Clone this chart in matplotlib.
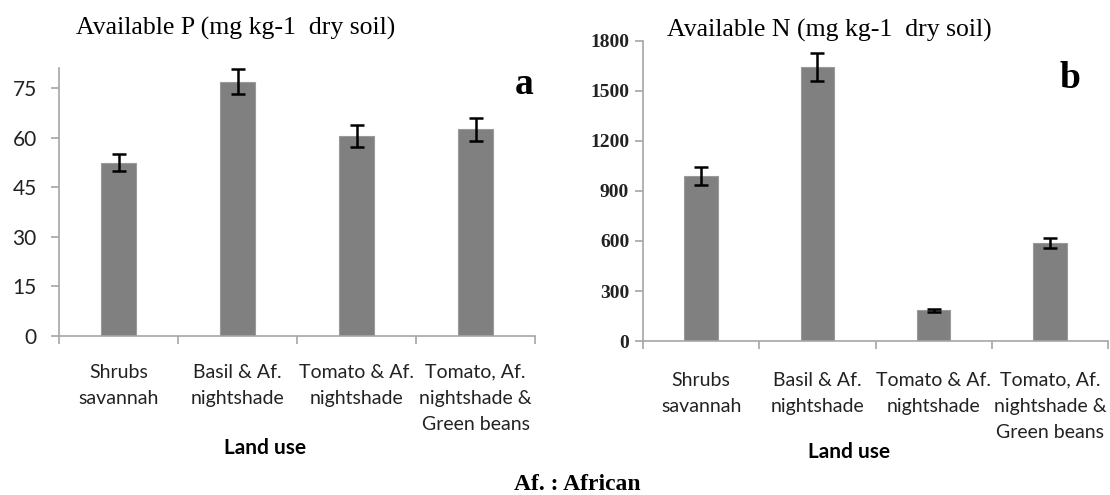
import matplotlib
matplotlib.use("Agg")
import matplotlib.pyplot as plt
import numpy as np

# data
land_use = ["Shrubs\nsavannah", "Basil & Af.\nnightshade", "Tomato & Af.\nnightshade",
            "Tomato, Af.\nnightshade &\nGreen beans"]
avail_p = [52.5, 77.0, 60.6, 62.6]
avail_p_err = [2.6, 3.8, 3.4, 3.4]
avail_n = [988, 1645, 184, 590]
avail_n_err = [53, 84, 10, 30]
p_ticks = [0, 15, 30, 45, 60, 75]
n_ticks = [0, 300, 600, 900, 1200, 1500, 1800]

bar_col = "#808080"
axis_col = "#a6a6a6"
sans = "Lato"
serif = "Liberation Serif"

fig = plt.figure(figsize=(11.1, 4.95), dpi=100)
ax1 = fig.add_axes([0.0532, 0.3212, 0.4288, 0.5414])
ax2 = fig.add_axes([0.5793, 0.3111, 0.4189, 0.6061])

x = np.arange(len(land_use))


def style(ax, vals, errs, ylim, yticks, ytick_font, ytick_weight, ytick_size, pad, ypad):
    ax.bar(x, vals, width=0.29, color=bar_col, edgecolor="#9a9a9a", linewidth=0.8, zorder=2)
    ax.errorbar(x, vals, yerr=errs, fmt="none", ecolor="black", elinewidth=1.8,
                capsize=5, capthick=1.8, zorder=3)
    ax.set_xlim(-0.5, len(land_use) - 0.5)
    ax.set_ylim(*ylim)
    for s in ["top", "right"]:
        ax.spines[s].set_visible(False)
    for s in ["left", "bottom"]:
        ax.spines[s].set_color(axis_col)
        ax.spines[s].set_linewidth(1.2)
    # boundary ticks on x, labels in the middle
    ax.set_xticks(np.arange(-0.5, len(land_use), 1.0))
    ax.set_xticklabels([])
    ax.set_xticks(x, minor=True)
    ax.set_xticklabels(land_use, minor=True, fontsize=14, family=sans, color="#222222",
                       linespacing=1.65)
    ax.tick_params(axis="x", which="major", length=6, color=axis_col, width=1.2)
    ax.tick_params(axis="x", which="minor", length=0, pad=pad)
    ax.set_yticks(yticks)
    ax.set_yticklabels([str(t) for t in yticks], family=ytick_font, fontweight=ytick_weight,
                       fontsize=ytick_size, color="#222222")
    ax.tick_params(axis="y", length=6, color=axis_col, width=1.2, pad=ypad)


style(ax1, avail_p, avail_p_err, (0, 81.2), p_ticks, sans, "normal", 15, 20, 10)
style(ax2, avail_n, avail_n_err, (0, 1800), n_ticks, serif, "bold", 14, 22, 4)

fig.text(236 / 1110, 1 - 28 / 495, "Available P (mg kg-1  dry soil)", family=serif,
         fontsize=18.5, ha="center", va="center")
fig.text(829 / 1110, 1 - 30 / 495, "Available N (mg kg-1  dry soil)", family=serif,
         fontsize=18.5, ha="center", va="center")
fig.text(524 / 1110, 1 - 84 / 495, "a", family=serif, fontweight="bold", fontsize=27,
         ha="center", va="center")
fig.text(1070 / 1110, 1 - 78 / 495, "b", family=serif, fontweight="bold", fontsize=27,
         ha="center", va="center")
fig.text(265 / 1110, 1 - 448 / 495, "Land use", family=sans, fontweight="bold",
         fontsize=15, ha="center", va="center")
fig.text(849 / 1110, 1 - 452 / 495, "Land use", family=sans, fontweight="bold",
         fontsize=15, ha="center", va="center")
fig.text(577 / 1110, 1 - 485 / 495, "Af. : African", family=serif, fontweight="bold",
         fontsize=17, ha="center", va="center")

fig.savefig("out.png", dpi=100)
